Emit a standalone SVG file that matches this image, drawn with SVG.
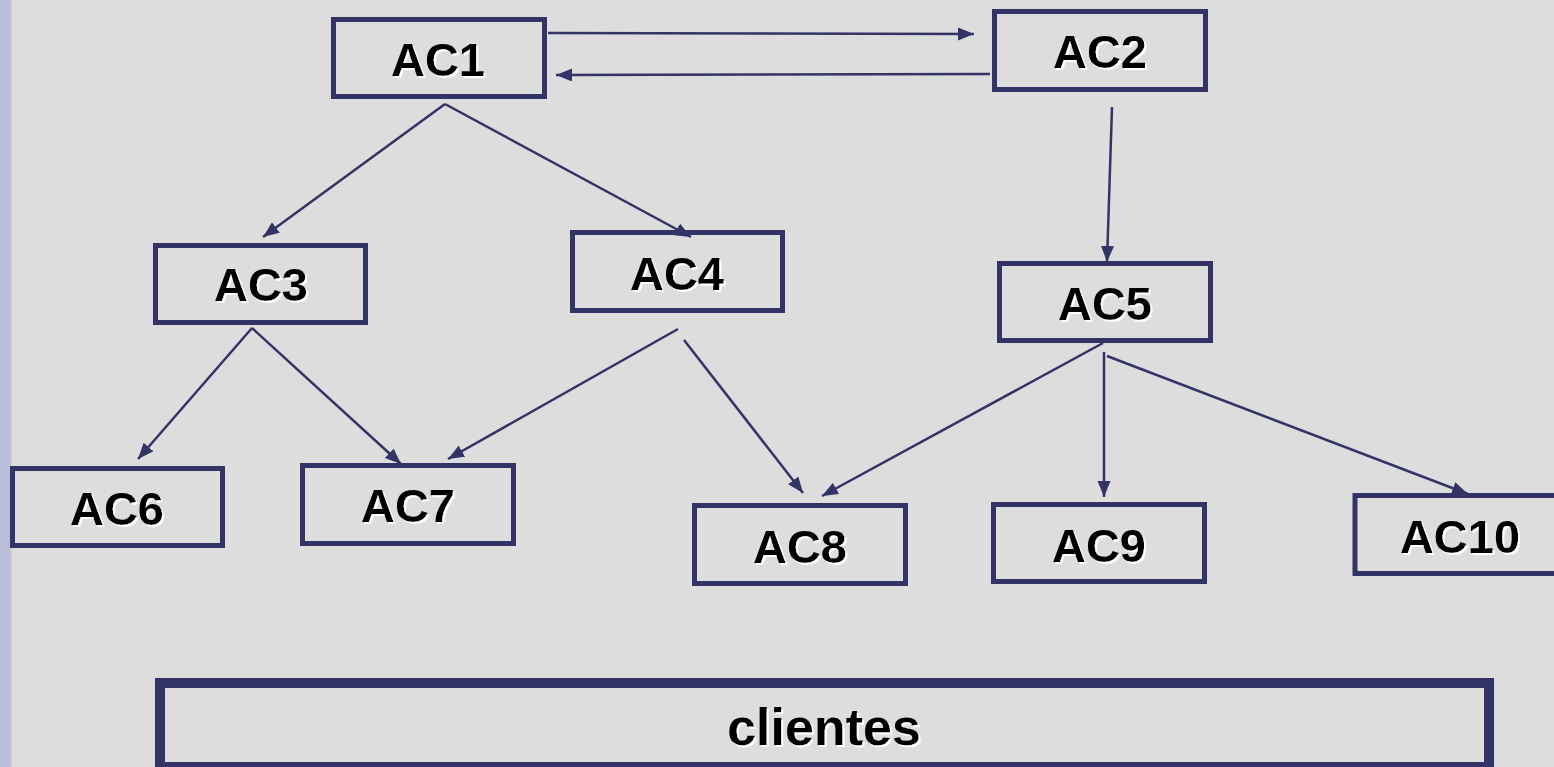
<svg xmlns="http://www.w3.org/2000/svg" width="1554" height="767" viewBox="0 0 1554 767">
  <style>
    .box { fill: none; stroke: #333366; stroke-width: 5; }
    .big { fill: none; stroke: #333366; stroke-width: 10; }
    .lbl { font-family: "Liberation Sans", Arial, sans-serif; font-weight: bold; font-size: 47px; fill: #000; text-anchor: middle; filter: url(#glow); }
    .lbl-big { font-size: 52px; }
    .edge { stroke: #333366; stroke-width: 2.5; fill: none; marker-end: url(#head); }
  </style>
  <defs>
    <marker id="head" markerUnits="userSpaceOnUse" markerWidth="17" markerHeight="14" refX="16" refY="6.5" orient="auto">
      <path d="M0,0 L16,6.5 L0,13 Z" fill="#333366"/>
    </marker>
    <filter id="glow" x="-10%" y="-10%" width="130%" height="130%">
      <feDropShadow dx="2" dy="2" stdDeviation="0" flood-color="#ffffff" flood-opacity="1"/>
    </filter>
  </defs>

  <!-- background and left border strip -->
  <rect x="0" y="0" width="1554" height="767" fill="#dddddd"/>
  <rect x="0" y="0" width="10" height="767" fill="#b8bdd9"/>
  <rect x="10" y="0" width="1.5" height="767" fill="#c8c8c8"/>

  <g id="connectors">
    <line class="edge" x1="548" y1="33" x2="974" y2="34"/>
    <line class="edge" x1="990" y1="74" x2="556" y2="75"/>
    <line class="edge" x1="445" y1="104" x2="263" y2="237"/>
    <line class="edge" x1="445" y1="104" x2="691" y2="237"/>
    <line class="edge" x1="1112" y1="107" x2="1107" y2="262"/>
    <line class="edge" x1="252" y1="328" x2="138" y2="459"/>
    <line class="edge" x1="252" y1="328" x2="401" y2="464"/>
    <line class="edge" x1="678" y1="329" x2="448" y2="459"/>
    <line class="edge" x1="684" y1="340" x2="803" y2="493"/>
    <line class="edge" x1="1103" y1="343" x2="822" y2="496"/>
    <line class="edge" x1="1104" y1="352" x2="1104" y2="497"/>
    <line class="edge" x1="1107" y1="356" x2="1468" y2="494"/>
  </g>

  <g id="AC1"><rect class="box" x="333.5" y="19.5" width="211" height="77"/><text class="lbl" x="438" y="76">AC1</text></g>
  <g id="AC2"><rect class="box" x="994.5" y="11.5" width="211" height="78"/><text class="lbl" x="1100" y="68">AC2</text></g>
  <g id="AC3"><rect class="box" x="155.5" y="245.5" width="210" height="77"/><text class="lbl" x="261" y="301">AC3</text></g>
  <g id="AC4"><rect class="box" x="572.5" y="232.5" width="210" height="78"/><text class="lbl" x="677" y="290">AC4</text></g>
  <g id="AC5"><rect class="box" x="999.5" y="263.5" width="211" height="77"/><text class="lbl" x="1105" y="320">AC5</text></g>
  <g id="AC6"><rect class="box" x="12.5" y="468.5" width="210" height="77"/><text class="lbl" x="117" y="525">AC6</text></g>
  <g id="AC7"><rect class="box" x="302.5" y="465.5" width="211" height="78"/><text class="lbl" x="408" y="522">AC7</text></g>
  <g id="AC8"><rect class="box" x="694.5" y="505.5" width="211" height="78"/><text class="lbl" x="800" y="563">AC8</text></g>
  <g id="AC9"><rect class="box" x="993.5" y="504.5" width="211" height="77"/><text class="lbl" x="1099" y="562">AC9</text></g>
  <g id="AC10"><rect class="box" x="1355" y="495.5" width="211" height="78"/><text class="lbl" x="1460" y="553">AC10</text></g>
  <g id="clientes"><rect class="big" x="160" y="683" width="1329" height="84"/><text class="lbl lbl-big" x="824" y="745">clientes</text></g>
</svg>
